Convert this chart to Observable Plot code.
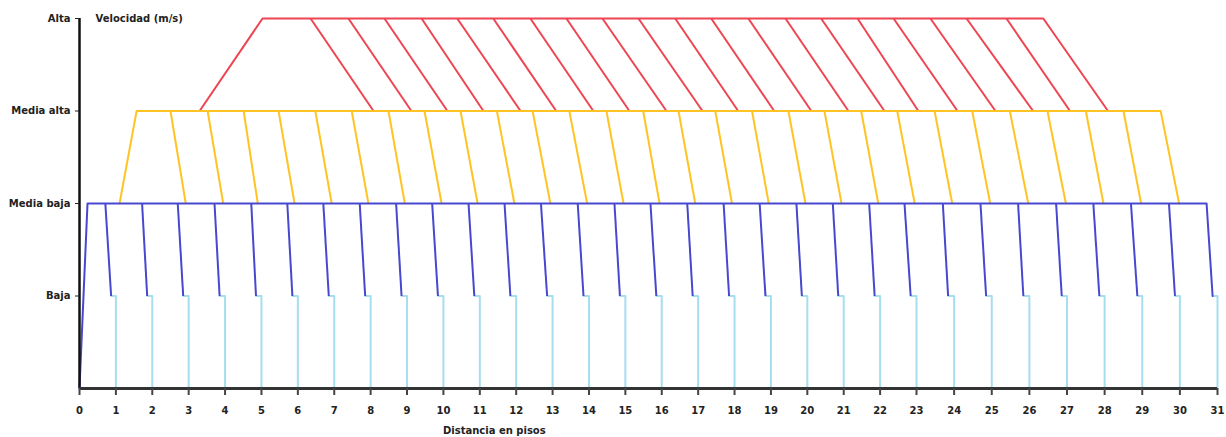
<!DOCTYPE html>
<html><head><meta charset="utf-8">
<script src="https://cdn.jsdelivr.net/npm/d3@7"></script>
<script src="https://cdn.jsdelivr.net/npm/@observablehq/plot@0.6"></script>
<style>html,body{margin:0;padding:0;background:#fff} #chart svg{display:block}</style>
</head><body><div id="chart"></div>
<script>
// Speed levels (y)
const levelNames = ["Baja", "Media baja", "Media alta", "Alta"];
const levelValues = [1, 2, 3, 4];
// Floors (x ticks)
const floorTicks = [0,1,2,3,4,5,6,7,8,9,10,11,12,13,14,15,16,17,18,19,20,21,22,23,24,25,26,27,28,29,30,31];
const floors = [1,2,3,4,5,6,7,8,9,10,11,12,13,14,15,16,17,18,19,20,21,22,23,24,25,26,27,28,29,30,31];

// Red (Alta) profile envelope and deceleration lines
const redEnvelopeX = [3.30, 5.03, 26.37, 28.09];
const redEnvelopeY = [3, 4, 4, 3];
const redTopX = [6.35, 7.39, 8.38, 9.40, 10.38, 11.37, 12.39, 13.38, 14.37, 15.36, 16.37, 17.36, 18.38, 19.40, 20.38, 21.38, 22.37, 23.37, 24.33, 25.39];
const redBottomX = [8.08, 9.12, 10.11, 11.10, 12.12, 13.10, 14.12, 15.11, 16.13, 17.12, 18.10, 19.09, 20.11, 21.13, 22.12, 23.05, 24.09, 25.10, 26.10, 27.08];

// Yellow (Media alta) profile
const yellowEnvelopeX = [1.10, 1.57, 29.49, 29.98];
const yellowEnvelopeY = [2, 3, 3, 2];
const yellowTopX = [2.50, 3.52, 4.51, 5.47, 6.48, 7.48, 8.49, 9.48, 10.47, 11.47, 12.45, 13.46, 14.48, 15.49, 16.46, 17.47, 18.48, 19.48, 20.47, 21.48, 22.47, 23.48, 24.48, 25.48, 26.48, 27.50, 28.50];
const yellowBottomX = [2.92, 3.95, 4.90, 5.91, 6.93, 7.94, 8.94, 9.95, 10.94, 11.95, 12.94, 13.95, 14.95, 15.94, 16.92, 17.93, 18.94, 19.95, 20.94, 21.95, 22.95, 23.95, 24.96, 25.97, 26.97, 27.97, 28.97];

// Blue (Media baja) profile
const blueEnvelopeX = [0, 0.22, 30.71, 30.87];
const blueEnvelopeY = [0, 2, 2, 1];
const blueTopX = [0.71, 1.72, 2.70, 3.71, 4.72, 5.71, 6.70, 7.70, 8.70, 9.69, 10.69, 11.68, 12.68, 13.69, 14.70, 15.69, 16.70, 17.70, 18.69, 19.70, 20.70, 21.70, 22.67, 23.70, 24.70, 25.70, 26.71, 27.70, 28.70, 29.71];
const blueBottomX = [0.87, 1.86, 2.85, 3.85, 4.85, 5.85, 6.85, 7.85, 8.85, 9.85, 10.85, 11.84, 12.85, 13.85, 14.85, 15.85, 16.85, 17.85, 18.85, 19.85, 20.85, 21.85, 22.84, 23.84, 24.85, 25.84, 26.86, 27.86, 28.87, 29.87, 30.87];

const colors = {red: "#ee4553", yellow: "#ffc424", blue: "#4848cf", light: "#a6def0"};
const yTitle = "Velocidad (m/s)";
const xTitle = "Distancia en pisos";
const xTitleAt = 11.4;

const font = "DejaVu Sans, Verdana, sans-serif";

const toPts = (xs, ys) => xs.map((x, i) => ({x, y: ys[i]}));
const segs = (tops, bottoms, yTop, yBot) => tops.map((x, i) => ({x1: x, y1: yTop, x2: bottoms[i], y2: yBot}));

const lightPaths = floors.flatMap((f, i) => [
  {x: blueBottomX[i], y: 1, z: f},
  {x: f, y: 1, z: f},
  {x: f, y: 0, z: f}
]);

const chart = Plot.plot({
  width: 1226,
  height: 437,
  marginTop: 18,
  marginBottom: 49,
  marginLeft: 79,
  marginRight: 9,
  style: {fontFamily: font, fontSize: "10px", fontWeight: "bold", background: "#fff"},
  x: {type: "linear", domain: [0, 23, 31], range: [79, 916, 1217]},
  y: {domain: [0, 4]},
  marks: [
    Plot.line(lightPaths, {x: "x", y: "y", z: "z", stroke: colors.light, strokeWidth: 2}),
    Plot.line(toPts(redEnvelopeX, redEnvelopeY), {x: "x", y: "y", stroke: colors.red, strokeWidth: 2}),
    Plot.link(segs(redTopX, redBottomX, 4, 3), {x1: "x1", y1: "y1", x2: "x2", y2: "y2", stroke: colors.red, strokeWidth: 2}),
    Plot.line(toPts(yellowEnvelopeX, yellowEnvelopeY), {x: "x", y: "y", stroke: colors.yellow, strokeWidth: 2}),
    Plot.link(segs(yellowTopX, yellowBottomX, 3, 2), {x1: "x1", y1: "y1", x2: "x2", y2: "y2", stroke: colors.yellow, strokeWidth: 2}),
    Plot.line(toPts(blueEnvelopeX, blueEnvelopeY), {x: "x", y: "y", stroke: colors.blue, strokeWidth: 2}),
    Plot.link(segs(blueTopX, blueBottomX.slice(0, blueTopX.length), 2, 1), {x1: "x1", y1: "y1", x2: "x2", y2: "y2", stroke: colors.blue, strokeWidth: 2}),
    Plot.ruleX([0], {stroke: "#111", strokeWidth: 2.5}),
    Plot.ruleY([0], {x1: 0, x2: 31, stroke: "#333", strokeWidth: 3}),
    Plot.axisY({ticks: levelValues, tickFormat: d => levelNames[d - 1], tickSize: 4, tickPadding: 5, label: null, stroke: "#222", fill: "#222", fontWeight: "bold"}),
    Plot.axisX({ticks: floorTicks, tickFormat: d => String(d), tickSize: 7, tickPadding: 11, label: null, stroke: "#444", strokeWidth: 2, fill: "#222", fontWeight: "bold"}),
    Plot.text([yTitle], {frameAnchor: "top-left", dx: 16, lineAnchor: "middle", textAnchor: "start", fill: "#222", fontWeight: "bold", fontSize: 10}),
    Plot.text([{label: xTitle, at: xTitleAt}], {x: "at", text: "label", frameAnchor: "bottom", dy: 42, lineAnchor: "middle", fill: "#222", fontWeight: "bold", fontSize: 10})
  ]
});
document.getElementById("chart").appendChild(chart);
</script>
</body></html>
